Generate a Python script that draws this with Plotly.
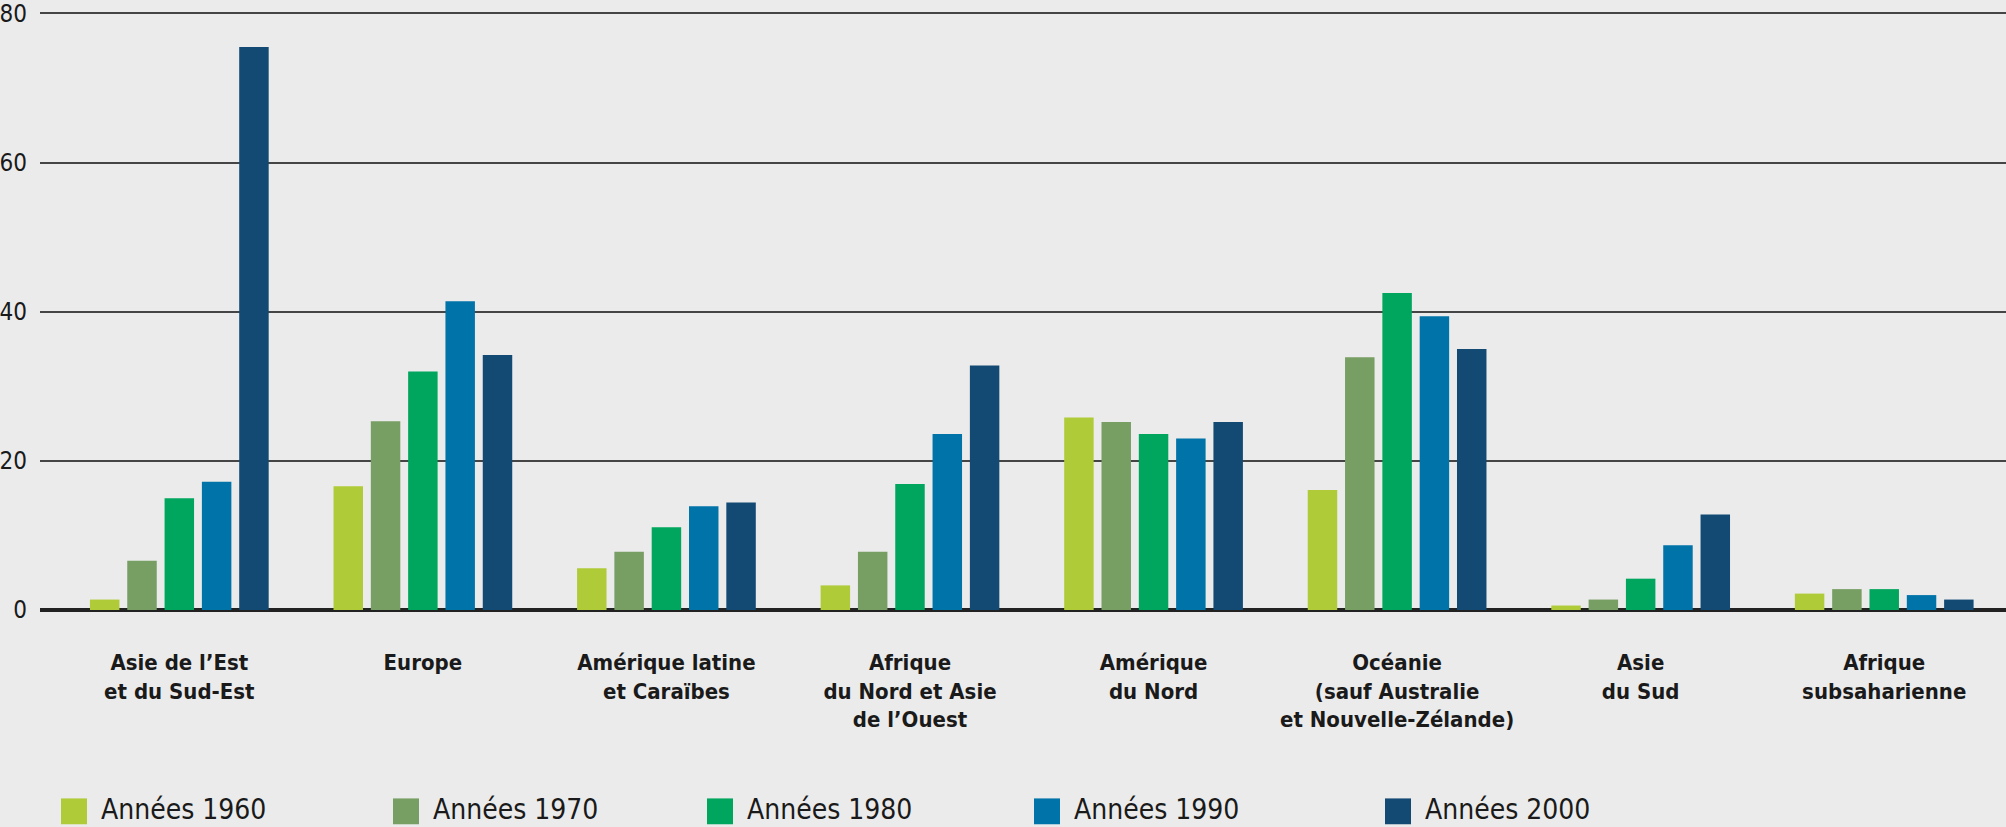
import plotly.graph_objects as go

categories = [
    "Asie de l’Est<br>et du Sud-Est",
    "Europe",
    "Amérique latine<br>et Caraïbes",
    "Afrique<br>du Nord et Asie<br>de l’Ouest",
    "Amérique<br>du Nord",
    "Océanie<br>(sauf Australie<br>et Nouvelle-Zélande)",
    "Asie<br>du Sud",
    "Afrique<br>subsaharienne",
]

series_names = ["Années 1960", "Années 1970", "Années 1980", "Années 1990", "Années 2000"]

v1960 = [1.4, 16.6, 5.6, 3.3, 25.8, 16.1, 0.6, 2.2]
v1970 = [6.6, 25.3, 7.8, 7.8, 25.2, 33.9, 1.4, 2.8]
v1980 = [15.0, 32.0, 11.1, 16.9, 23.6, 42.5, 4.2, 2.8]
v1990 = [17.2, 41.4, 13.9, 23.6, 23.0, 39.4, 8.7, 2.0]
v2000 = [75.5, 34.2, 14.4, 32.8, 25.2, 35.0, 12.8, 1.4]

values = [v1960, v1970, v1980, v1990, v2000]
colors = ["#B0CB38", "#779E63", "#00A65D", "#0073A8", "#134A74"]

y_ticks = [0, 20, 40, 60, 80]

W, H = 2006, 827
ML, MR, MT, MB = 40, 0, 3, 216.5

fig = go.Figure()
for name, vals, col in zip(series_names, values, colors):
    fig.add_trace(go.Bar(
        x=list(range(len(categories))), y=vals, name=name,
        marker=dict(color=col, line=dict(width=0)),
        showlegend=False,
    ))

base_font = "DejaVu Sans Condensed, Liberation Sans Narrow, Roboto, sans-serif"

fig.update_layout(
    width=W, height=H,
    margin=dict(l=ML, r=MR, t=MT, b=MB, pad=0),
    paper_bgcolor="#EBEBEB", plot_bgcolor="#EBEBEB",
    barmode="group", bargap=0.234, bargroupgap=0.21,
    font=dict(family=base_font, color="#1a1a1a"),
    xaxis=dict(
        range=[-0.572, 7.5],
        tickmode="array", tickvals=list(range(len(categories))), ticktext=categories,
        tickfont=dict(family=base_font, size=22, color="#1a1a1a", weight="bold"),
        showgrid=False, zeroline=False, showline=False, ticks="",
        ticklabelstandoff=37,
    ),
    yaxis=dict(
        range=[0, 81], tickmode="array", tickvals=y_ticks,
        ticktext=[str(t) for t in y_ticks],
        tickfont=dict(family=base_font, size=24, color="#1a1a1a"),
        showgrid=True, gridcolor="#454545", gridwidth=1.5,
        zeroline=True, zerolinecolor="#222222", zerolinewidth=4,
        showline=False, ticks="", ticklabelstandoff=12,
        ticklabeloverflow="allow",
    ),
)

# manual legend
plot_w = W - ML - MR
plot_h = H - MT - MB
legend_left_px = [61, 393, 707, 1034, 1385]
sq = 26
sq_top_px = 800
for name, col, lx in zip(series_names, colors, legend_left_px):
    x0 = (lx - ML) / plot_w
    x1 = (lx + sq - ML) / plot_w
    y1 = (H - MB - sq_top_px) / plot_h
    y0 = (H - MB - (sq_top_px + sq)) / plot_h
    fig.add_shape(type="rect", xref="paper", yref="paper",
                  x0=x0, x1=x1, y0=y0, y1=y1,
                  fillcolor=col, line=dict(width=0))
    fig.add_annotation(xref="paper", yref="paper",
                       x=(lx + sq + 12 - ML) / plot_w,
                       y=(H - MB - 811) / plot_h,
                       xanchor="left", yanchor="middle",
                       text=name, showarrow=False,
                       font=dict(family=base_font, size=28, color="#1a1a1a"))

fig.write_html("out.html", config={"displayModeBar": False},
               post_script="document.body.style.margin='0';document.body.style.overflow='hidden';")
